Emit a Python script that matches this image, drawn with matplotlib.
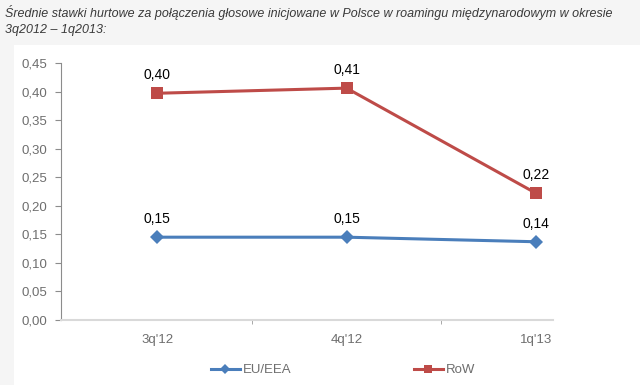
import matplotlib.pyplot as plt
from matplotlib.patches import Rectangle
from matplotlib.ticker import FuncFormatter

plt.rcParams['font.family'] = ['Liberation Sans', 'DejaVu Sans']

quarters = ["3q'12", "4q'12", "1q'13"]
eu_eea = [0.145, 0.145, 0.137]
row = [0.397, 0.406, 0.222]
eu_labels = ['0,15', '0,15', '0,14']
row_labels = ['0,40', '0,41', '0,22']

title = ('Średnie stawki hurtowe za połączenia głosowe inicjowane w Polsce '
         'w roamingu międzynarodowym w okresie\n3q2012 – 1q2013:')

fig = plt.figure(figsize=(6.4, 3.85), dpi=100)
fig.patch.set_facecolor('#f5f5f5')
# white panel behind the chart
fig.patches.append(Rectangle((14 / 640, 0), 1, 1 - 45 / 385, transform=fig.transFigure,
                             facecolor='white', edgecolor='none', zorder=-10))

fig.text(5 / 640, 1 - 5 / 385, title, ha='left', va='top', fontsize=9, style='italic',
         color='#3a3a3a', linespacing=1.45)

ax = fig.add_axes([61 / 640, 1 - 320 / 385, (553 - 61) / 640, (320 - 63) / 385])
ax.patch.set_alpha(0)

x = list(range(len(quarters)))
l1, = ax.plot(x, eu_eea, color='#4a7ebb', lw=2.2, marker='D', markersize=7,
              markeredgewidth=0, label='EU/EEA', zorder=3, clip_on=False)
l2, = ax.plot(x, row, color='#be4b48', lw=2.2, marker='s', markersize=8.5,
              markeredgewidth=0, label='RoW', zorder=3, clip_on=False)

for xi, v, t in zip(x, eu_eea, eu_labels):
    ax.annotate(t, (xi, v), xytext=(0, 8), textcoords='offset points',
                ha='center', va='bottom', fontsize=10, color='black')
for xi, v, t in zip(x, row, row_labels):
    ax.annotate(t, (xi, v), xytext=(0, 8), textcoords='offset points',
                ha='center', va='bottom', fontsize=10, color='black')

ax.set_ylim(0, 0.45)
ax.set_xlim(-0.507, 2.09)
ax.set_yticks([i * 0.05 for i in range(10)])
ax.yaxis.set_major_formatter(FuncFormatter(lambda v, p: f'{v:.2f}'.replace('.', ',')))
ax.set_xticks(x)
ax.set_xticklabels(quarters)
ax.set_xticks([0.5, 1.5], minor=True)

for s in ['top', 'right']:
    ax.spines[s].set_visible(False)
ax.spines['left'].set_color('#8c8c8c')
ax.spines['bottom'].set_color('#d9d9d9')
ax.spines['bottom'].set_linewidth(1.5)
ax.tick_params(axis='y', colors='#8c8c8c', labelcolor='#6e6e6e', labelsize=9.5,
               length=4, pad=6)
ax.tick_params(axis='x', which='major', length=0, labelcolor='#6e6e6e',
               labelsize=9.5, pad=10)
ax.tick_params(axis='x', which='minor', length=3, color='#9a9a9a')

fig.legend(handles=[l1, l2], loc='center', bbox_to_anchor=(343 / 640, 1 - 370 / 385),
           ncol=2, frameon=False, fontsize=9.5, handlelength=2.2, handletextpad=0.2,
           columnspacing=9.3, labelcolor='#6e6e6e', markerscale=0.7)

fig.savefig('out.png', dpi=100, facecolor=fig.get_facecolor())
